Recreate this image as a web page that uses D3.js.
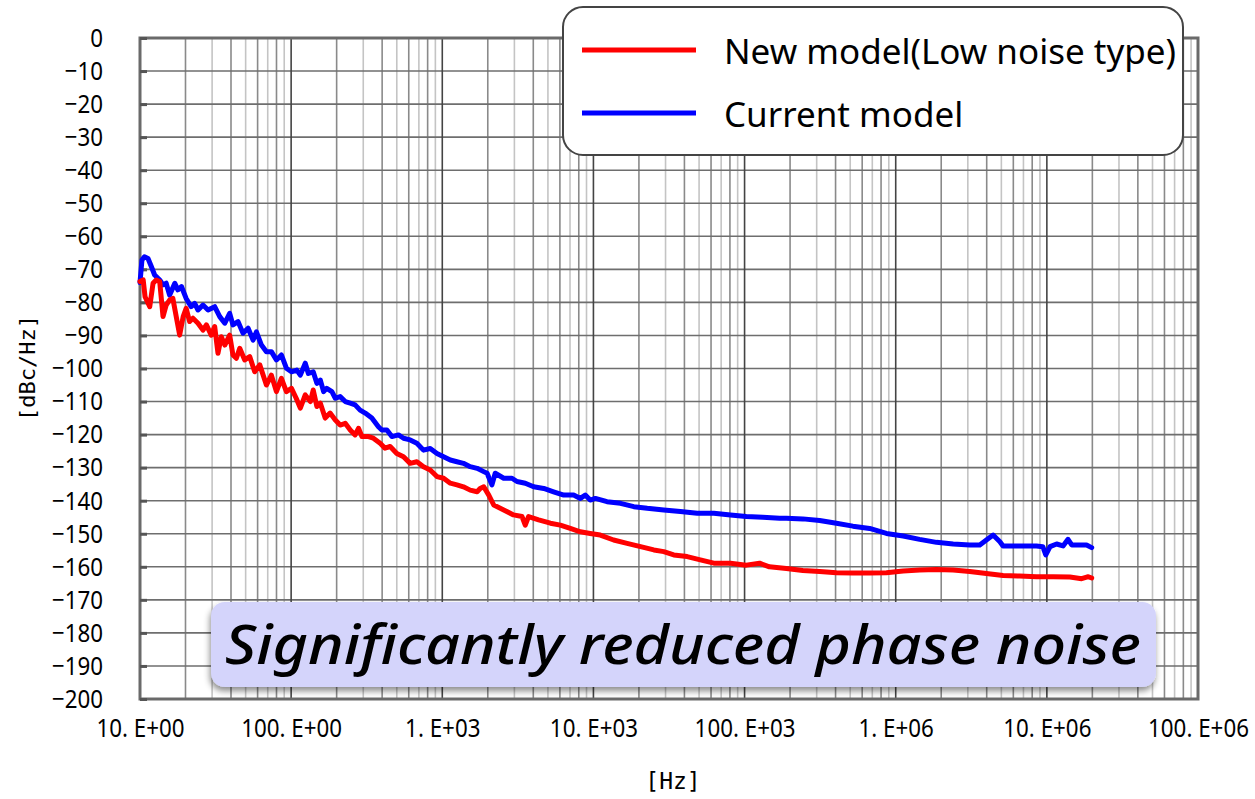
<!DOCTYPE html>
<html>
<head>
<meta charset="utf-8">
<title>Phase noise</title>
<script src="https://d3js.org/d3.v7.min.js"></script>
<style>
  body { margin: 0; background: #fff; }
  .tick text { font-family: "Noto Sans", "DejaVu Sans", sans-serif; }
</style>
</head>
<body>
<svg width="1255" height="799"></svg>
<script>
// measured phase noise, frequency in Hz, level in dBc/Hz
const newFreq = [10, 10.5, 10.8, 11.6, 12.2, 12.8, 13.5, 14.2, 14.9, 15.7, 16.5, 18.3, 19.3, 20.2, 21.3, 22.4,
  24.2, 26.1, 27.5, 29.6, 31.2, 32.8, 34.5, 36.4, 39.2, 41.2, 43.4, 45.7, 49.3, 53.2, 57.4, 62.0, 68.6, 74.0,
  79.9, 86.2, 93.0, 100.5, 108, 115, 124, 134, 140, 148, 156, 168, 181, 196, 211, 228, 246, 265, 279, 294,
  325, 350, 388, 418, 452, 500, 554, 613, 679, 751, 832, 922, 1020, 1130, 1250, 1380, 1530, 1700, 1780,
  1880, 2030, 2190, 2550, 2960, 3370, 3540, 3720, 4340, 5190, 6040, 7030, 8190, 9520, 11100, 13600, 16700,
  20500, 25100, 29200, 34000, 41700, 51000, 62600, 80700, 102600, 125700, 146000, 189000, 243000, 314000,
  405000, 521000, 672000, 868000, 1.12e6, 1.44e6, 1.86e6, 2.4e6, 3.09e6, 3.98e6, 5.13e6, 6.6e6, 8.53e6,
  1.1e7, 1.42e7, 1.7e7, 1.88e7, 1.98e7];
const newDb = [-73.7, -73.2, -78.3, -81.3, -74.2, -73.2, -73.7, -84.3, -80.8, -79.3, -78.8, -89.9, -84.3, -81.8,
  -85.8, -84.8, -86.3, -88.4, -86.8, -89.9, -87.3, -95.4, -90.4, -92.9, -89.9, -95.9, -96.9, -93.9, -97.4,
  -96.4, -101, -98.9, -105, -102, -107, -103, -107, -106, -109, -112, -108, -110, -106.5, -111.5, -110.5,
  -115, -113.5, -115.6, -117.1, -116.6, -118.6, -120.1, -118.1, -120.6, -120.6, -121.1, -122.6, -124.1,
  -123.6, -125.7, -126.7, -128.7, -128.2, -129.7, -130.7, -132.7, -133.2, -134.7, -135.2, -135.8, -136.8,
  -137.3, -136.3, -135.8, -138.3, -141.3, -142.8, -144.3, -144.8, -147.4, -144.8, -145.8, -146.8, -147.4,
  -148.4, -149.4, -149.9, -150.4, -151.9, -152.9, -153.9, -154.9, -155.4, -156.4, -156.9, -157.9, -158.9,
  -158.9, -159.5, -158.9, -160, -160.5, -161.1, -161.4, -161.8, -161.9, -161.9, -161.8, -161.3, -161,
  -160.8, -161, -161.4, -162, -162.6, -162.8, -163, -163, -163.1, -163.6, -163, -163.4];

const curFreq = [10, 10.3, 10.7, 11.3, 11.9, 12.5, 13.5, 14.2, 14.9, 15.7, 17.0, 17.8, 18.8, 20.2, 21.8, 23.0,
  24.2, 26.1, 28.2, 31.2, 33.7, 36.4, 39.2, 41.2, 44.5, 48.0, 51.9, 56.0, 58.9, 63.6, 68.6, 74.0, 79.9, 86.2,
  93.0, 100.5, 109, 115, 124, 130, 140, 148, 156, 164, 172, 186, 196, 211, 228, 246, 265, 286, 309, 342, 378,
  398, 430, 464, 513, 554, 613, 679, 751, 832, 922, 1020, 1130, 1250, 1380, 1530, 1700, 1880, 1980, 2130,
  2240, 2550, 2890, 3120, 3540, 4020, 4690, 5450, 6360, 7400, 8190, 8830, 9520, 10300, 12300, 15100, 18500,
  22700, 29200, 37600, 48600, 62600, 80700, 102600, 132000, 170500, 189000, 243000, 314000, 405000, 521000,
  672000, 868000, 1.12e6, 1.44e6, 1.86e6, 2.4e6, 3.09e6, 3.6e6, 3.98e6, 4.41e6, 4.89e6, 5.13e6, 6.6e6,
  8.53e6, 9.4e6, 9.84e6, 1.05e7, 1.16e7, 1.28e7, 1.38e7, 1.46e7, 1.65e7, 1.83e7, 1.98e7];
const curDb = [-74, -67.2, -66.2, -66.7, -69.2, -71.7, -73.2, -74.7, -74.2, -77.8, -74.2, -76.2, -75.2, -78.8,
  -81.3, -80.3, -82.3, -80.8, -82.3, -81.3, -84.3, -86.3, -83.3, -86.8, -85.8, -89.3, -87.8, -91.4, -88.9,
  -92.9, -94.9, -94.9, -97.4, -95.9, -99.9, -101, -100.5, -102, -98.4, -101.5, -101, -104.5, -103.5, -107,
  -106, -107, -109, -108.5, -110, -110.5, -111, -112.6, -113.5, -115, -117.6, -118.6, -118.6, -120.6,
  -120.1, -121.1, -121.6, -122.6, -124.7, -124.2, -125.7, -126.7, -127.7, -128.2, -128.7, -129.7, -130.2,
  -131.2, -131.7, -135.2, -131.7, -133.2, -133.2, -134.2, -134.7, -135.8, -136.3, -137.3, -138.3, -138.3,
  -139.3, -138.3, -139.8, -139.3, -140.3, -140.8, -141.8, -142.3, -142.8, -143.3, -143.8, -143.8, -144.3,
  -144.8, -145, -145.3, -145.3, -145.5, -146, -146.8, -147.7, -148.4, -149.9, -150.7, -151.7, -152.6,
  -153.1, -153.4, -153.4, -151.9, -150.4, -152.4, -153.7, -153.7, -153.7, -153.9, -156.4, -153.9, -153.1,
  -153.7, -151.7, -153.4, -153.4, -153.4, -154.2];

const decades = [10, 100, 1e3, 1e4, 1e5, 1e6, 1e7, 1e8];
const decadeLabels = ["10. E+00", "100. E+00", "1. E+03", "10. E+03", "100. E+03", "1. E+06", "10. E+06", "100. E+06"];
const dbTicks = d3.range(-200, 1, 10);
const seriesNames = ["New model(Low noise type)", "Current model"];
const seriesColors = ["#ff0000", "#0000ff"];
const note = "Significantly reduced phase noise";

const pLeft = 140, pRight = 1198, pTop = 38, pBottom = 699;
const squeeze = 0.86; // narrow look of the tick font

var svg = d3.select('svg');

const x = d3.scaleLog().domain([10, 1e8]).range([pLeft, pRight]);
const y = d3.scaleLinear().domain([-200, 0]).range([pBottom, pTop]);

const defs = svg.append('defs');
defs.append('filter').attr('id', 'shadow')
  .attr('x', '-5%').attr('y', '-20%').attr('width', '110%').attr('height', '150%')
  .append('feDropShadow')
  .attr('dx', -1).attr('dy', 4).attr('stdDeviation', 3)
  .attr('flood-color', '#000').attr('flood-opacity', 0.45);

// grid - minor verticals
const grid = svg.append('g');
decades.slice(0, -1).forEach(function(d) {
  for (let k = 2; k <= 9; k++) {
    grid.append('line')
      .attr('x1', x(d * k)).attr('x2', x(d * k))
      .attr('y1', pTop).attr('y2', pBottom)
      .attr('stroke', k % 2 == 0 ? '#8a8a8a' : '#c4c4c4')
      .attr('stroke-width', 1.6);
  }
});
grid.selectAll('.hgrid')
  .data(dbTicks)
  .enter().append('line')
  .attr('x1', pLeft).attr('x2', pRight)
  .attr('y1', d => y(d)).attr('y2', d => y(d))
  .attr('stroke', '#6e6e6e').attr('stroke-width', 1.6);
grid.selectAll('.vmaj')
  .data(decades)
  .enter().append('line')
  .attr('x1', d => x(d)).attr('x2', d => x(d))
  .attr('y1', pTop).attr('y2', pBottom)
  .attr('stroke', '#444').attr('stroke-width', 1.6);

// frame
svg.append('rect')
  .attr('x', pLeft).attr('y', pTop)
  .attr('width', pRight - pLeft).attr('height', pBottom - pTop)
  .attr('fill', 'none').attr('stroke', '#6a6a6a').attr('stroke-width', 3);

// axes
const xAxis = svg.append('g')
  .attr('transform', `translate(0, ${pBottom})`)
  .call(d3.axisBottom(x).tickValues(decades).tickSize(0).tickPadding(20)
    .tickFormat((d, i) => decadeLabels[i]));
xAxis.select('.domain').remove();
xAxis.selectAll('text')
  .attr('font-size', 26).attr('fill', '#000')
  .attr('transform', `scale(${squeeze},1)`);

const yAxis = svg.append('g')
  .attr('transform', `translate(${pLeft}, 0)`)
  .call(d3.axisLeft(y).tickValues(dbTicks).tickSize(-7).tickPadding(38)
    .tickFormat(d => d < 0 ? '\u2212' + Math.abs(d) : d));
yAxis.select('.domain').remove();
yAxis.selectAll('line').attr('stroke', '#555').attr('stroke-width', 3);
yAxis.selectAll('text')
  .attr('font-size', 26).attr('fill', '#000')
  .attr('x', -37 / squeeze)
  .attr('transform', `scale(${squeeze},1)`);

svg.append('text')
  .attr('x', 673).attr('y', 789)
  .attr('text-anchor', 'middle')
  .attr('font-family', '"DejaVu Sans Mono", monospace')
  .attr('font-size', 23)
  .text('[Hz]');
svg.append('text')
  .attr('transform', 'translate(35, 368) rotate(-90)')
  .attr('text-anchor', 'middle')
  .attr('font-family', '"DejaVu Sans Mono", monospace')
  .attr('font-size', 22)
  .text('[dBc/Hz]');

// curves
const line = d3.line()
  .x(d => x(d[0]))
  .y(d => y(d[1]));

const series = [
  { f: curFreq, v: curDb, c: seriesColors[1] },
  { f: newFreq, v: newDb, c: seriesColors[0] }
];
series.forEach(function(s) {
  svg.append('path')
    .datum(s.f.map((f, i) => [f, s.v[i]]))
    .attr('d', line)
    .attr('fill', 'none')
    .attr('stroke', s.c)
    .attr('stroke-width', 5)
    .attr('stroke-linejoin', 'round')
    .attr('stroke-linecap', 'round');
});

// legend
const legend = svg.append('g');
legend.append('rect')
  .attr('x', 563).attr('y', 7).attr('width', 620).attr('height', 148)
  .attr('rx', 20).attr('ry', 20)
  .attr('fill', '#fff').attr('stroke', '#444').attr('stroke-width', 2);
seriesNames.forEach(function(name, i) {
  const ly = 50 + i * 63;
  legend.append('line')
    .attr('x1', 582).attr('x2', 696)
    .attr('y1', ly).attr('y2', ly)
    .attr('stroke', seriesColors[i]).attr('stroke-width', 5);
  legend.append('text')
    .attr('x', 724).attr('y', ly + 14)
    .attr('font-family', '"Noto Sans", sans-serif')
    .attr('font-size', 35)
    .attr('fill', '#000')
    .text(name);
});

// callout
const callout = svg.append('g');
callout.append('rect')
  .attr('x', 211).attr('y', 602).attr('width', 945).attr('height', 85)
  .attr('rx', 14).attr('ry', 14)
  .attr('fill', '#d4d4fb')
  .attr('filter', 'url(#shadow)');
callout.append('text')
  .attr('x', 225).attr('y', 664)
  .attr('font-family', '"Noto Sans", sans-serif')
  .attr('font-style', 'italic')
  .attr('font-weight', 500)
  .attr('font-size', 54)
  .attr('textLength', 916)
  .attr('lengthAdjust', 'spacingAndGlyphs')
  .attr('fill', '#000')
  .text(note);
</script>
</body>
</html>
